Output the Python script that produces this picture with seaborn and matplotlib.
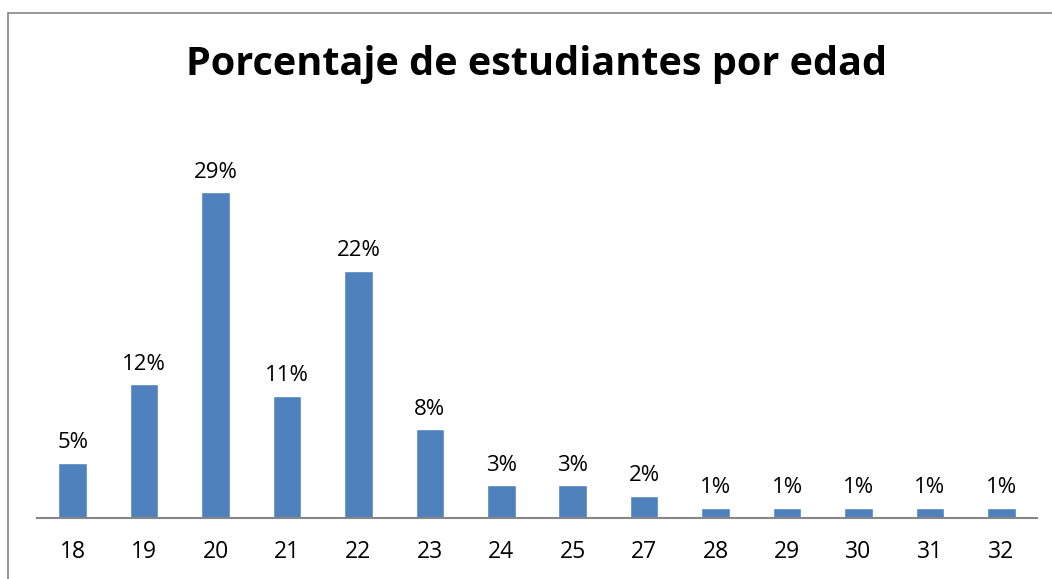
import matplotlib
matplotlib.use("Agg")
import matplotlib.pyplot as plt
import seaborn as sns
import pandas as pd
from matplotlib.lines import Line2D

# data
edades = ["18", "19", "20", "21", "22", "23", "24", "25", "27", "28", "29", "30", "31", "32"]
porcentajes = [4.9, 11.9, 29.0, 10.9, 22.0, 7.9, 2.9, 2.9, 2.0, 0.9, 0.9, 0.9, 0.9, 0.9]

df = pd.DataFrame({"Edad": edades, "Porcentaje": porcentajes})

sns.set_style("white")
plt.rcParams["font.family"] = ["Open Sans", "DejaVu Sans"]
plt.rcParams["text.color"] = "black"
plt.rcParams["xtick.color"] = "black"

fig = plt.figure(figsize=(10.52, 5.79), dpi=100)
ax = fig.add_axes([37 / 1052, 61 / 579, 1000 / 1052, 393 / 579])

sns.barplot(data=df, x="Edad", y="Porcentaje", color="#4F81BD", width=0.4,
            saturation=1, ax=ax)

for i, v in enumerate(porcentajes):
    ax.text(i, v + 0.85, f"{round(v):.0f}%", ha="center", va="bottom", fontsize=16)

ax.set_ylim(0, 35)
ax.set_xlim(-0.5, len(edades) - 0.5)
ax.set_xlabel("")
ax.set_ylabel("")
ax.set_yticks([])
ax.tick_params(axis="x", length=0, labelsize=16.5, pad=16, labelcolor="black")
for side in ["top", "right", "left"]:
    ax.spines[side].set_visible(False)
ax.spines["bottom"].set_color("#868686")
ax.spines["bottom"].set_linewidth(1.5)

fig.text(537 / 1052, 1 - 65 / 579, "Porcentaje de estudiantes por edad",
         ha="center", va="center", fontsize=28.5, fontweight="bold", color="black")

# outer chart frame (left and top edges visible)
fig.add_artist(Line2D([8 / 1052, 8 / 1052], [0, 1 - 13 / 579], transform=fig.transFigure,
                      color="#868686", linewidth=1.2))
fig.add_artist(Line2D([8 / 1052, 1], [1 - 13 / 579, 1 - 13 / 579], transform=fig.transFigure,
                      color="#868686", linewidth=1.2))

fig.savefig("out.png", dpi=100)
